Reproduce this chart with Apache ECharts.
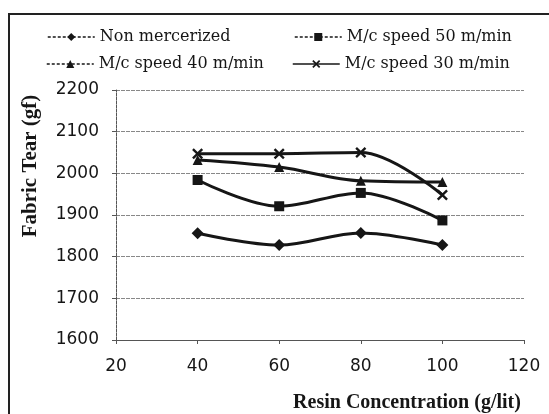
<!DOCTYPE html>
<html>
<head>
<meta charset="utf-8">
<script src="https://cdn.jsdelivr.net/npm/echarts@6/dist/echarts.min.js"></script>
<style>
  html, body { margin: 0; padding: 0; background: #fff; }
  #chart { width: 549px; height: 414px; }
</style>
</head>
<body>
<div id="chart"></div>
<script>
// resin concentration (g/lit)
const resin = [40, 60, 80, 100];
// fabric tear (gf)
const nonMercerized = [1856, 1828, 1857, 1828];
const speed50 = [1984, 1921, 1953, 1887];
const speed40 = [2032, 2015, 1982, 1979];
const speed30 = [2047, 2047, 2050, 1948];

const seriesNames = ["Non mercerized", "M/c speed 50 m/min", "M/c speed 40 m/min", "M/c speed 30 m/min"];
const xTicks = [20, 40, 60, 80, 100, 120];
const yTicks = [1600, 1700, 1800, 1900, 2000, 2100, 2200];

const ink = "#161616";
const xShape = "path://M0,1.5L1.5,0L5,3.5L8.5,0L10,1.5L6.5,5L10,8.5L8.5,10L5,6.5L1.5,10L0,8.5L3.5,5Z";

function pairs(vals) {
  return resin.map((x, i) => [x, vals[i]]);
}

function lineSeries(name, vals, symbol, size) {
  return {
    name: name,
    type: "line",
    data: pairs(vals),
    smooth: 0.35,
    symbol: symbol,
    symbolSize: size,
    showAllSymbol: true,
    lineStyle: { color: ink, width: 3 },
    itemStyle: { color: ink },
    emphasis: { disabled: true },
    z: 3
  };
}

const legendFont = { fontFamily: "DejaVu Serif", fontSize: 16, color: ink };
function legendAt(name, left, top, dashed) {
  return {
    data: [{ name: name, lineStyle: { type: dashed ? [3, 2] : "solid", width: 1.5 } }],
    left: left,
    top: top,
    itemWidth: 47,
    itemHeight: 10,
    itemGap: 4,
    textStyle: legendFont,
    selectedMode: false
  };
}

const chart = echarts.init(document.getElementById("chart"), null, { renderer: "canvas" });
chart.setOption({
  backgroundColor: "#fff",
  animation: false,
  legend: [
    legendAt(seriesNames[0], 42, 24, true),
    legendAt(seriesNames[1], 289, 24, true),
    legendAt(seriesNames[2], 41, 51, true),
    legendAt(seriesNames[3], 287, 51, false)
  ],
  grid: { left: 116, right: 25, top: 90, bottom: 74 },
  xAxis: {
    type: "value",
    min: xTicks[0],
    max: xTicks[xTicks.length - 1],
    interval: 20,
    axisLine: { show: true, lineStyle: { color: "#555", width: 1 } },
    axisTick: { show: true, inside: false, length: 4, lineStyle: { color: "#555" } },
    axisLabel: { margin: 18, fontFamily: "DejaVu Sans", fontSize: 17, color: ink },
    splitLine: { show: false }
  },
  yAxis: {
    type: "value",
    min: yTicks[0],
    max: yTicks[yTicks.length - 1],
    interval: 100,
    axisLine: { show: true, lineStyle: { color: "#555", width: 1, type: [3, 1] } },
    axisTick: { show: true, length: 4, lineStyle: { color: "#555" } },
    axisLabel: {
      margin: 17,
      fontFamily: "DejaVu Sans",
      fontSize: 17,
      color: ink,
      formatter: (v) => String(v)
    },
    splitLine: { show: true, lineStyle: { color: "#888", width: 1, type: [4, 1] } }
  },
  series: [
    lineSeries(seriesNames[0], nonMercerized, "diamond", 12),
    lineSeries(seriesNames[1], speed50, "rect", 10),
    lineSeries(seriesNames[2], speed40, "triangle", 10),
    lineSeries(seriesNames[3], speed30, xShape, 11)
  ],
  graphic: [
    {
      type: "rect",
      shape: { x: 9, y: 14, width: 600, height: 500 },
      style: { fill: null, stroke: "#222", lineWidth: 2 },
      silent: true
    },
    {
      type: "text",
      x: 31,
      y: 166,
      rotation: Math.PI / 2,
      style: {
        text: "Fabric Tear (gf)",
        fontFamily: "Liberation Serif",
        fontWeight: "bold",
        fontSize: 21,
        fill: ink,
        align: "center",
        verticalAlign: "middle"
      }
    },
    {
      type: "text",
      x: 407,
      y: 403,
      style: {
        text: "Resin Concentration (g/lit)",
        fontFamily: "Liberation Serif",
        fontWeight: "bold",
        fontSize: 20,
        fill: ink,
        align: "center",
        verticalAlign: "middle"
      }
    }
  ]
});
</script>
</body>
</html>
